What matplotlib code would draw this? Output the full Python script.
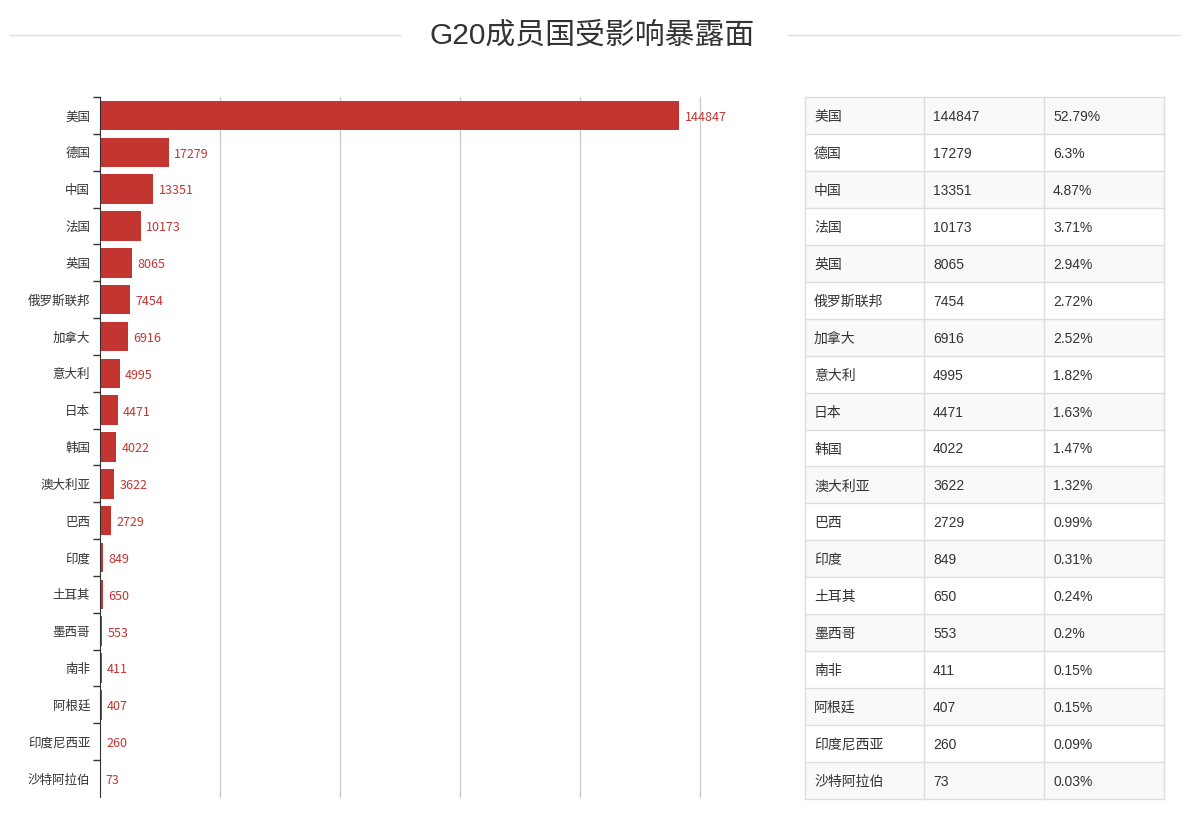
import matplotlib
matplotlib.use("Agg")
import matplotlib.pyplot as plt
from matplotlib.patches import Rectangle
from matplotlib.lines import Line2D

plt.rcParams['font.family'] = ['Noto Sans CJK SC', 'DejaVu Sans']

countries = ["美国", "德国", "中国", "法国", "英国", "俄罗斯联邦", "加拿大", "意大利", "日本", "韩国",
             "澳大利亚", "巴西", "印度", "土耳其", "墨西哥", "南非", "阿根廷", "印度尼西亚", "沙特阿拉伯"]
values = [144847, 17279, 13351, 10173, 8065, 7454, 6916, 4995, 4471, 4022,
          3622, 2729, 849, 650, 553, 411, 407, 260, 73]
percents = ["52.79%", "6.3%", "4.87%", "3.71%", "2.94%", "2.72%", "2.52%", "1.82%", "1.63%", "1.47%",
            "1.32%", "0.99%", "0.31%", "0.24%", "0.2%", "0.15%", "0.15%", "0.09%", "0.03%"]
title = "G20成员国受影响暴露面"

W, H = 1184, 823
fig = plt.figure(figsize=(W / 100, H / 100), dpi=100)

def fx(px):
    return px / W

def fy(py):
    return 1 - py / H

# Title and decorative lines
fig.text(0.5, fy(36), title, ha='center', va='center', fontsize=21.5, color='#333333',
         family=['Liberation Sans', 'Noto Sans CJK SC'])
fig.add_artist(Line2D([fx(10), fx(400)], [fy(35), fy(35)], color='#dddddd', lw=1))
fig.add_artist(Line2D([fx(788), fx(1180)], [fy(35), fy(35)], color='#dddddd', lw=1))

# Bar chart
ax = fig.add_axes([fx(100), fy(797), fx(700) - fx(100), fy(97) - fy(797)])
n = len(countries)
ypos = list(range(n))
ax.barh(ypos, values, height=0.8, color='#c23531', zorder=2)
for y, v in zip(ypos, values):
    ax.text(v + 1300, y + 0.05, str(v), va='center', ha='left', fontsize=9, color='#c23531', zorder=3)
ax.set_xlim(0, 150000)
ax.set_ylim(n - 0.5, -0.5)
ax.set_xticks([30000, 60000, 90000, 120000, 150000])
ax.xaxis.grid(True, color='#cccccc', lw=1, zorder=0)
for gl in ax.get_xgridlines():
    gl.set_clip_on(False)
ax.tick_params(axis='x', length=0, labelbottom=False)
ax.set_yticks(ypos)
ax.set_yticklabels(countries, fontsize=9, color='#333333')
ax.tick_params(axis='y', which='major', length=0, pad=7)
ax.set_yticks([i - 0.5 for i in range(n)], minor=True)
ax.tick_params(axis='y', which='minor', length=5, width=1, color='#333333', direction='out')
for s in ['top', 'right', 'bottom']:
    ax.spines[s].set_visible(False)
ax.spines['left'].set_color('#333333')

# Table
tx0, tx1, ty0, ty1 = 805, 1164, 97, 799
tax = fig.add_axes([fx(tx0), fy(ty1), fx(tx1) - fx(tx0), fy(ty0) - fy(ty1)])
tax.set_xlim(tx0, tx1)
tax.set_ylim(ty1, ty0)
tax.axis('off')
rowh = (ty1 - ty0) / n
cols = [805, 924, 1044, 1164]
for i in range(n):
    top = ty0 + i * rowh
    fc = '#f9f9f9' if i % 2 == 0 else '#ffffff'
    tax.add_patch(Rectangle((tx0, top), tx1 - tx0, rowh, facecolor=fc, edgecolor='none'))
    cells = [countries[i], str(values[i]), percents[i]]
    for j, c in enumerate(cells):
        tax.text(cols[j] + 9, top + rowh / 2 + 1.5, c, va='center', ha='left', fontsize=10, color='#333333',
                 family=['Liberation Sans', 'Noto Sans CJK SC'])
for i in range(n + 1):
    y = ty0 + i * rowh
    tax.plot([tx0, tx1], [y, y], color='#dddddd', lw=1, clip_on=False)
for x in cols:
    tax.plot([x, x], [ty0, ty1], color='#dddddd', lw=1, clip_on=False)

fig.savefig('out.png', dpi=100, facecolor='white')
